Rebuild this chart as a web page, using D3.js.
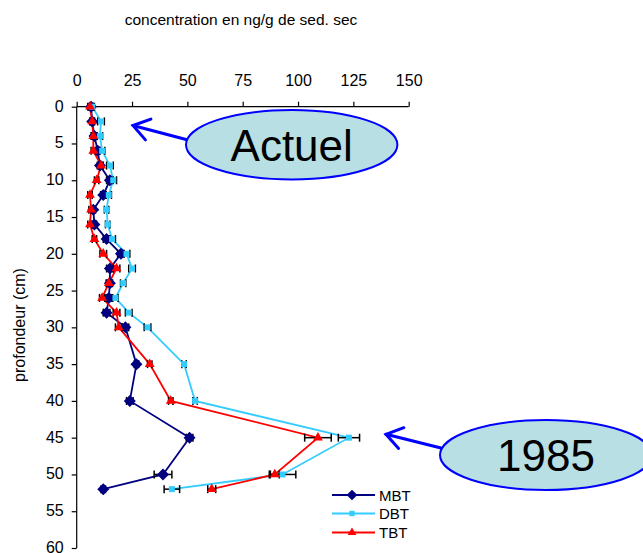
<!DOCTYPE html>
<html>
<head>
<meta charset="utf-8">
<script src="https://cdn.jsdelivr.net/npm/d3@7"></script>
<style>
  html, body { margin: 0; padding: 0; background: #fff; }
  svg { display: block; font-family: "Liberation Sans", Arial, sans-serif; }
</style>
</head>
<body>
<svg id="chart" width="643" height="553"></svg>
<script>
// Sampling depths (cm) and concentrations (ng/g dry sediment)
const depths = [0, 2, 4, 6, 8, 10, 12, 14, 16, 18, 20, 22, 24, 26, 28, 30, 35, 40, 45, 50, 52];
const mbt = [6.5, 7.0, 8.0, 9.5, 10.5, 15.0, 12.0, 7.5, 8.0, 13.5, 20.0, 15.0, 15.0, 14.5, 13.5, 22.0, 27.0, 24.0, 51.0, 39.0, 12.0];
const dbt = [7.0, 11.0, 10.5, 11.5, 15.0, 16.5, 14.5, 13.5, 14.0, 16.0, 22.5, 25.0, 21.0, 17.5, 23.5, 32.0, 48.5, 53.5, 123.0, 93.0, 43.0];
const tbt = [6.0, 7.0, 7.5, 7.5, 11.0, 9.0, 6.0, 6.5, 6.0, 8.0, 12.0, 18.0, 14.5, 11.5, 18.0, 19.0, 33.0, 42.5, 109.0, 89.5, 61.0];
// Standard deviations
const mbtErr = [1.0, 1.0, 1.0, 1.0, 1.2, 1.5, 1.2, 1.0, 1.0, 1.5, 1.5, 1.5, 1.2, 1.2, 1.5, 1.5, 1.0, 1.5, 1.5, 4.0, 1.0];
const dbtErr = [1.0, 1.5, 1.2, 1.2, 1.5, 1.5, 1.2, 1.0, 1.0, 1.5, 1.5, 1.5, 1.2, 1.2, 1.5, 1.5, 1.0, 1.0, 4.8, 6.0, 3.5];
const tbtErr = [1.0, 1.0, 1.0, 1.0, 1.0, 1.0, 1.0, 1.0, 1.0, 1.0, 1.5, 1.5, 1.2, 1.2, 1.5, 1.5, 1.0, 1.0, 6.0, 2.0, 1.8];

const xTicks = [0, 25, 50, 75, 100, 125, 150];
const yTicks = [0, 5, 10, 15, 20, 25, 30, 35, 40, 45, 50, 55, 60];

const seriesNames = ["MBT", "DBT", "TBT"];
const seriesValues = [mbt, dbt, tbt];
const seriesErrors = [mbtErr, dbtErr, tbtErr];
const seriesColors = ["#000080", "#33CCFF", "#FF0000"];

// Excel-style diamond: a square turned 45 degrees
const symbolRhombus = {
  draw(context, size) {
    const r = Math.sqrt(size / 2);
    context.moveTo(0, -r);
    context.lineTo(r, 0);
    context.lineTo(0, r);
    context.lineTo(-r, 0);
    context.closePath();
  }
};
const seriesShapes = [symbolRhombus, d3.symbolSquare, d3.symbolTriangle];
const seriesSizes = [72, 36, 42];

const svg = d3.select("#chart");

const x = d3.scaleLinear().domain([0, 150]).range([76.7, 408.7]);
const y = d3.scaleLinear().domain([0, 60]).range([106.7, 548]);

// Title
svg.append("text")
  .attr("x", 241).attr("y", 25)
  .attr("text-anchor", "middle")
  .attr("font-size", 15.5)
  .text("concentration en ng/g de sed. sec");

// Y axis title
svg.append("text")
  .attr("transform", "translate(25,325) rotate(-90)")
  .attr("text-anchor", "middle")
  .attr("font-size", 16)
  .text("profondeur (cm)");

// X axis on top
const xAxis = svg.append("g")
  .attr("transform", `translate(0,${y(0)})`)
  .call(d3.axisTop(x).tickValues(xTicks).tickSize(5).tickPadding(16));
xAxis.selectAll("text").attr("font-size", 16).attr("fill", "#000").style("font-family", "Liberation Sans, Arial, sans-serif");

// Y axis on the left
const yAxis = svg.append("g")
  .attr("transform", `translate(${x(0)},0)`)
  .call(d3.axisLeft(y).tickValues(yTicks).tickSize(5).tickPadding(8));
yAxis.selectAll("text").attr("font-size", 16).attr("dy", "0.28em").attr("fill", "#000").style("font-family", "Liberation Sans, Arial, sans-serif");
svg.selectAll(".tick line").attr("stroke", "#000").attr("stroke-width", 1.2);
xAxis.select(".domain").remove();
yAxis.select(".domain").remove();
svg.append("line").attr("x1", x(0)).attr("x2", x(150)).attr("y1", y(0)).attr("y2", y(0)).attr("stroke", "#000").attr("stroke-width", 1.2);
svg.append("line").attr("x1", x(0)).attr("x2", x(0)).attr("y1", y(0)).attr("y2", y(60)).attr("stroke", "#000").attr("stroke-width", 1.2);

// Series lines
const line = d3.line().x(d => x(d.v)).y(d => y(d.d));
seriesValues.forEach((vals, i) => {
  const pts = vals.map((v, k) => ({ v, d: depths[k] }));
  svg.append("path")
    .datum(pts)
    .attr("d", line)
    .attr("fill", "none")
    .attr("stroke", seriesColors[i])
    .attr("stroke-width", 1.8);
});

// Error bars
seriesValues.forEach((vals, i) => {
  const pts = vals.map((v, k) => ({ v, d: depths[k], e: seriesErrors[i][k] }));
  const g = svg.append("g").attr("stroke", "#000").attr("stroke-width", 1.5);
  pts.forEach(p => {
    const yy = y(p.d);
    g.append("line").attr("x1", x(p.v - p.e)).attr("x2", x(p.v + p.e)).attr("y1", yy).attr("y2", yy);
    g.append("line").attr("x1", x(p.v - p.e)).attr("x2", x(p.v - p.e)).attr("y1", yy - 4).attr("y2", yy + 4);
    g.append("line").attr("x1", x(p.v + p.e)).attr("x2", x(p.v + p.e)).attr("y1", yy - 4).attr("y2", yy + 4);
  });
});

// Markers
seriesValues.forEach((vals, i) => {
  const sym = d3.symbol().type(seriesShapes[i]).size(seriesSizes[i]);
  svg.append("g").selectAll("path")
    .data(vals.map((v, k) => ({ v, d: depths[k] })))
    .join("path")
    .attr("d", sym)
    .attr("transform", d => `translate(${x(d.v)},${y(d.d)})`)
    .attr("fill", seriesColors[i]);
});

// Legend
const legendRows = [495, 513.5, 532.5];
seriesNames.forEach((name, i) => {
  const ly = legendRows[i];
  svg.append("line").attr("x1", 332).attr("x2", 375).attr("y1", ly).attr("y2", ly)
    .attr("stroke", seriesColors[i]).attr("stroke-width", 1.8);
  svg.append("path").attr("d", d3.symbol().type(seriesShapes[i]).size(seriesSizes[i] * 0.8)())
    .attr("transform", `translate(352,${ly})`).attr("fill", seriesColors[i]);
  svg.append("text").attr("x", 379).attr("y", ly + 5.5).attr("font-size", 15).text(name);
});

// Callouts with arrows
function arrow(x1, y1, x2, y2) {
  const ang = Math.atan2(y1 - y2, x1 - x2);
  const len = 19, spread = 0.6;
  const g = svg.append("g").attr("stroke", "#0000FF").attr("stroke-width", 3).attr("fill", "none").attr("stroke-linecap", "round");
  g.append("line").attr("x1", x1).attr("y1", y1).attr("x2", x2).attr("y2", y2);
  g.append("path").attr("d",
    `M${x2 + len * Math.cos(ang + spread)},${y2 + len * Math.sin(ang + spread)} L${x2},${y2} L${x2 + len * Math.cos(ang - spread)},${y2 + len * Math.sin(ang - spread)}`);
}
function bubble(cx, cy, rx, ry, label) {
  svg.append("ellipse").attr("cx", cx).attr("cy", cy).attr("rx", rx).attr("ry", ry)
    .attr("fill", "#B8DFE3").attr("stroke", "#0000FF").attr("stroke-width", 2);
  svg.append("text").attr("x", cx).attr("y", cy + 16).attr("text-anchor", "middle")
    .attr("font-size", 44).text(label);
}
arrow(188, 140, 133, 125.5);
bubble(291.7, 144.7, 105.7, 34.7, "Actuel");
arrow(441, 448, 386, 434.3);
bubble(546, 455, 106, 35, "1985");
</script>
</body>
</html>
